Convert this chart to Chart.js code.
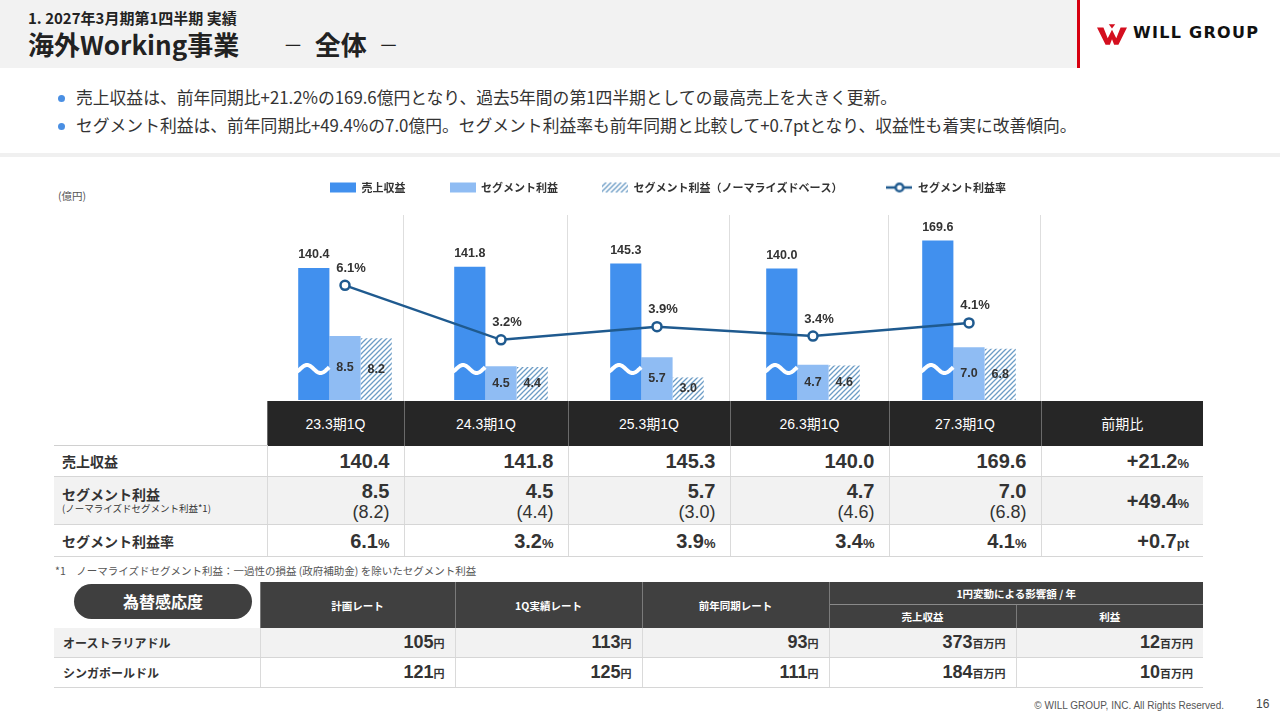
<!DOCTYPE html>
<html lang="ja">
<head>
<meta charset="utf-8">
<script src="https://cdn.jsdelivr.net/npm/chart.js@4.4.1/dist/chart.umd.min.js"></script>
<style>
	body { margin: 0; background: #fff; }
	#slide { position: relative; width: 1280px; height: 720px; overflow: hidden; font-family: "Noto Sans CJK JP", "Noto Sans", sans-serif; color: #333; }
	.num { font-family: "Liberation Sans", "Noto Sans CJK JP", sans-serif; }
	#band { position: absolute; left: 0; top: 0; width: 1078px; height: 68px; background: #f2f2f2; }
	#redline { position: absolute; left: 1077px; top: 0; width: 3px; height: 68px; background: #d7000f; }
	#subTitle { position: absolute; left: 28px; top: 7px; font-size: 15px; font-weight: 700; color: #222; }
	#mainTitle { position: absolute; left: 28px; top: 25px; font-size: 26px; font-weight: 700; color: #222; white-space: pre; }
	#mainTitle .dash { font-weight: 400; font-size: 20px; vertical-align: 2px; }
	#logo { position: absolute; left: 1097px; top: 24px; }
	#logoText { position: absolute; left: 1133px; top: 23px; font-family: "DejaVu Sans", sans-serif; font-weight: 700; font-size: 16px; letter-spacing: 1.3px; color: #111; }
	.bullet { position: absolute; left: 76px; font-size: 16.8px; color: #333; white-space: nowrap; }
	.dot { position: absolute; left: 58px; width: 7px; height: 7px; border-radius: 50%; background: #4a8fe3; }
	#sep { position: absolute; left: 0; top: 153px; width: 1280px; height: 4px; background: #f0f0f0; }
	#unit { position: absolute; left: 58px; top: 188px; font-size: 10.5px; color: #555; }
	#chartBox { position: absolute; left: 257px; top: 138px; }
	.vline { position: absolute; top: 215px; width: 1px; height: 186px; background: #dedede; }

	table { border-collapse: collapse; table-layout: fixed; position: absolute; left: 54px; }
	#perf { top: 401px; width: 1149px; }
	#perf th { background: #262626; color: #fff; font-weight: 400; font-size: 14px; height: 44px; padding: 0; border-left: 1px solid #6a6a6a; }
	#perf th.blank { background: #fff; border: none; border-bottom: 1px solid #d0d0d0; }
	#perf td { padding: 0 14px 0 0; text-align: right; border-left: 1px solid #dadada; border-bottom: 1px solid #d6d6d6; line-height: 1; }
	#perf td.lbl { text-align: left; padding-left: 8px; border-left: none; font-weight: 700; font-size: 14px; }
	#perf tr.r1 td { height: 30px; }
	#perf tr.r2 td { height: 47px; background: #f2f2f2; }
	#perf tr.r3 td { height: 31px; }
	.big { font-weight: 700; font-size: 20px; }
	.paren { font-size: 18px; display: block; margin-top: 2px; }
	.pc { font-weight: 700; font-size: 13px; }
	.small { font-size: 9.5px; font-weight: 400; display: block; margin-top: 3px; }

	#note { position: absolute; left: 55px; top: 563px; font-size: 10.5px; color: #555; white-space: pre; }

	#fx { top: 582px; width: 1149px; }
	#fx th { background: #404040; color: #fff; font-weight: 700; font-size: 10.5px; padding: 0; border-left: 1px solid #7a7a7a; }
	#fx th.blank { background: #fff; border: none; }
	#fx tr.h1 th { height: 22px; }
	#fx tr.h2 th { height: 23px; border-top: 1px solid #8a8a8a; }
	#fx td { height: 29px; padding: 0 10px 0 0; text-align: right; border-left: 1px solid #dadada; border-bottom: 1px solid #d6d6d6; }
	#fx td.lbl { text-align: left; padding-left: 9px; border-left: none; font-weight: 700; font-size: 12px; }
	#fx tr.odd td { background: #f2f2f2; }
	.fxv { font-weight: 700; font-size: 18px; }
	.yen { font-size: 11px; font-weight: 700; }
	#pill { position: absolute; left: 74px; top: 584px; width: 178px; height: 35px; border-radius: 18px; background: #3f3f3f; color: #fff; font-weight: 700; font-size: 16px; text-align: center; line-height: 35px; }

	#copy { position: absolute; right: 56px; top: 700px; font-size: 10px; color: #555; }
	#page { position: absolute; left: 1256px; top: 697px; font-size: 12px; color: #444; }
</style>
</head>
<body>
<div id="slide">
	<div id="band"></div>
	<div id="redline"></div>
	<div id="subTitle">1. 2027年3月期第1四半期 実績</div>
	<div id="mainTitle">海外Working事業　   <span class="dash">－</span>  全体  <span class="dash">－</span></div>
	<svg id="logo" width="30" height="22" viewBox="0 0 28 20">
		<path d="M0 3 L6 3 L10 13 L14 5 L18 13 L22 3 L28 3 L20 19 L16 19 L14 14 L12 19 L8 19 Z M11 0 L14 4 L17 0 Z" fill="#d40f1f"/>
	</svg>
	<div id="logoText">WILL GROUP</div>

	<div class="dot" style="top:95px"></div>
	<div class="bullet" style="top:85px">売上収益は、前年同期比+21.2%の169.6億円となり、過去5年間の第1四半期としての最高売上を大きく更新。</div>
	<div class="dot" style="top:123px"></div>
	<div class="bullet" style="top:113px">セグメント利益は、前年同期比+49.4%の7.0億円。セグメント利益率も前年同期と比較して+0.7ptとなり、収益性も着実に改善傾向。</div>
	<div id="sep"></div>

	<div id="unit">(億円)</div>
	<div id="vlines"></div>
	<div id="chartBox"><canvas id="segChart" width="822" height="262"></canvas></div>

	<table id="perf"></table>
	<div id="note">*1　ノーマライズドセグメント利益：一過性の損益 (政府補助金) を除いたセグメント利益</div>

	<table id="fx"></table>
	<div id="pill">為替感応度</div>

	<div id="copy" class="num">© WILL GROUP, INC. All Rights Reserved.</div>
	<div id="page" class="num">16</div>
</div>

<script>
const periods = ["23.3期1Q", "24.3期1Q", "25.3期1Q", "26.3期1Q", "27.3期1Q"];
const revenue = [140.4, 141.8, 145.3, 140.0, 169.6];
const segmentProfit = [8.5, 4.5, 5.7, 4.7, 7.0];
const normalizedProfit = [8.2, 4.4, 3.0, 4.6, 6.8];
const profitRate = [6.1, 3.2, 3.9, 3.4, 4.1];
const seriesNames = ["売上収益", "セグメント利益", "セグメント利益（ノーマライズドベース）", "セグメント利益率"];
const yoyRevenue = "+21.2";
const yoyProfit = "+49.4";
const yoyRate = "+0.7";

const fxCurrencies = ["オーストラリアドル", "シンガポールドル"];
const fxPlanRate = [105, 121];
const fxActualRate = [113, 125];
const fxPrevRate = [93, 111];
const fxRevenueImpact = [373, 184];
const fxProfitImpact = [12, 10];

const REV_COLOR = "#4190ee";
const PROFIT_COLOR = "#8fbcf3";
const LINE_COLOR = "#1f5a8f";
const HATCH_COLOR = "#6d9dc6";

// column widths of the results table (label column first)
const perfCols = [213, 137, 164, 162, 159, 152, 162];
const fxCols = [206, 195, 187, 187, 187, 187];

function hatchTile() {
	const t = document.createElement("canvas");
	t.width = 5;
	t.height = 5;
	const g = t.getContext("2d");
	g.fillStyle = "#fff";
	g.fillRect(0, 0, 5, 5);
	g.strokeStyle = HATCH_COLOR;
	g.lineWidth = 1.3;
	g.beginPath();
	g.moveTo(-1, 6); g.lineTo(6, -1);
	g.moveTo(-1, 1); g.lineTo(1, -1);
	g.moveTo(4, 6); g.lineTo(6, 4);
	g.stroke();
	return t;
}

function legendIcon(kind) {
	const c = document.createElement("canvas");
	c.width = 26;
	c.height = 12;
	const g = c.getContext("2d");
	if (kind === "line") {
		g.strokeStyle = LINE_COLOR;
		g.lineWidth = 2.5;
		g.beginPath();
		g.moveTo(0, 6);
		g.lineTo(26, 6);
		g.stroke();
		g.fillStyle = "#fff";
		g.beginPath();
		g.arc(13, 6, 3.8, 0, Math.PI * 2);
		g.fill();
		g.stroke();
	} else {
		g.fillStyle = kind === "hatch" ? g.createPattern(hatchTile(), "repeat") : kind;
		g.fillRect(0, 1, 26, 10);
	}
	return c;
}

// chart area column separators follow the table columns
let acc = 54 + perfCols[0];
let lines = "";
for (let i = 1; i < perfCols.length - 1; i++) {
	acc += perfCols[i];
	lines += `<div class="vline" style="left:${acc - 1}px"></div>`;
}
document.getElementById("vlines").innerHTML = lines;

// results table
function cols(widths) {
	return "<colgroup>" + widths.map((w) => `<col style="width:${w}px">`).join("") + "</colgroup>";
}
let perf = cols(perfCols);
perf += `<tr><th class="blank"></th>${periods.map((p) => `<th class="num">${p}</th>`).join("")}<th>前期比</th></tr>`;
perf += `<tr class="r1"><td class="lbl">売上収益</td>${revenue
	.map((v) => `<td class="num"><span class="big">${v.toFixed(1)}</span></td>`)
	.join("")}<td class="num"><span class="big">${yoyRevenue}</span><span class="pc">%</span></td></tr>`;
perf += `<tr class="r2"><td class="lbl">セグメント利益<span class="small">(ノーマライズドセグメント利益*1)</span></td>${segmentProfit
	.map(
		(v, i) =>
			`<td class="num"><span class="big">${v.toFixed(1)}</span><span class="paren">(${normalizedProfit[i].toFixed(1)})</span></td>`
	)
	.join("")}<td class="num"><span class="big">${yoyProfit}</span><span class="pc">%</span></td></tr>`;
perf += `<tr class="r3"><td class="lbl">セグメント利益率</td>${profitRate
	.map((v) => `<td class="num"><span class="big">${v.toFixed(1)}</span><span class="pc">%</span></td>`)
	.join("")}<td class="num"><span class="big">${yoyRate}</span><span class="pc">pt</span></td></tr>`;
document.getElementById("perf").innerHTML = perf;

// fx sensitivity table
let fx = cols(fxCols);
fx += `<tr class="h1"><th class="blank" rowspan="2"></th><th rowspan="2">計画レート</th><th rowspan="2">1Q実績レート</th><th rowspan="2">前年同期レート</th><th colspan="2">1円変動による影響額 / 年</th></tr>`;
fx += `<tr class="h2"><th>売上収益</th><th>利益</th></tr>`;
fxCurrencies.forEach((name, i) => {
	const yen = (v) => `<td class="num"><span class="fxv">${v}</span><span class="yen">円</span></td>`;
	const mil = (v) => `<td class="num"><span class="fxv">${v}</span><span class="yen">百万円</span></td>`;
	fx += `<tr class="${i === 0 ? "odd" : ""}"><td class="lbl">${name}</td>${yen(fxPlanRate[i])}${yen(fxActualRate[i])}${yen(
		fxPrevRate[i]
	)}${mil(fxRevenueImpact[i])}${mil(fxProfitImpact[i])}</tr>`;
});
document.getElementById("fx").innerHTML = fx;

// extra space under the legend
const legendGap = {
	id: "legendGap",
	beforeInit(chart) {
		if (!chart.legend) return;
		const fit = chart.legend.fit;
		chart.legend.fit = function () {
			fit.call(this);
			this.height += 9;
		};
	},
};

// value labels and the broken-axis waves on the revenue bars
const barMarks = {
	id: "barMarks",
	afterDatasetsDraw(chart) {
		const ctx = chart.ctx;
		ctx.save();

		chart.getDatasetMeta(0).data.forEach((bar) => {
			const left = bar.x - bar.width / 2;
			const cy = bar.base - 31;
			const period = bar.width * 0.87;
			ctx.strokeStyle = "#fff";
			ctx.lineWidth = 4;
			ctx.beginPath();
			for (let x = left - 1; x <= left + bar.width; x += 0.5) {
				const y = cy - 4 * Math.sin(((x - left - 2) / period) * Math.PI * 2);
				if (x === left - 1) ctx.moveTo(x, y);
				else ctx.lineTo(x, y);
			}
			ctx.stroke();
		});

		ctx.fillStyle = "#333";
		ctx.textAlign = "center";
		ctx.textBaseline = "middle";
		ctx.font = "bold 12.5px 'Liberation Sans', Arial, sans-serif";

		chart.getDatasetMeta(0).data.forEach((bar, i) => {
			ctx.fillText(revenue[i].toFixed(1), bar.x, bar.y - 13);
		});
		[1, 2].forEach((di) => {
			const values = chart.data.datasets[di].data;
			chart.getDatasetMeta(di).data.forEach((bar, i) => {
				ctx.fillText(values[i].toFixed(1), bar.x, (bar.y + bar.base) / 2);
			});
		});
		ctx.font = "bold 13px 'Liberation Sans', Arial, sans-serif";
		chart.getDatasetMeta(3).data.forEach((pt, i) => {
			ctx.fillText(profitRate[i].toFixed(1) + "%", pt.x + 6, pt.y - 17);
		});
		ctx.restore();
	},
};

const ctx = document.getElementById("segChart").getContext("2d");
const hatch = ctx.createPattern(hatchTile(), "repeat");
const icons = [legendIcon(REV_COLOR), legendIcon(PROFIT_COLOR), legendIcon("hatch"), legendIcon("line")];

new Chart(ctx, {
	type: "bar",
	data: {
		labels: periods,
		datasets: [
			{
				label: seriesNames[0],
				data: revenue,
				yAxisID: "yRev",
				backgroundColor: REV_COLOR,
				categoryPercentage: 0.6,
				barPercentage: 1,
				order: 1,
			},
			{
				label: seriesNames[1],
				data: segmentProfit,
				yAxisID: "yProf",
				backgroundColor: PROFIT_COLOR,
				categoryPercentage: 0.6,
				barPercentage: 1,
				order: 1,
			},
			{
				label: seriesNames[2],
				data: normalizedProfit,
				yAxisID: "yProf",
				backgroundColor: hatch,
				categoryPercentage: 0.6,
				barPercentage: 1,
				order: 1,
			},
			{
				type: "line",
				label: seriesNames[3],
				data: profitRate,
				yAxisID: "yRate",
				borderColor: LINE_COLOR,
				borderWidth: 2.5,
				pointRadius: 4.5,
				pointBorderWidth: 2.5,
				pointBackgroundColor: "#fff",
				pointBorderColor: LINE_COLOR,
				tension: 0,
				order: 0,
			},
		],
	},
	options: {
		responsive: false,
		animation: false,
		layout: { padding: 0, autoPadding: false },
		plugins: {
			legend: {
				position: "top",
				labels: {
					usePointStyle: true,
					pointStyleWidth: 26,
					padding: 44,
					color: "#333",
					font: { family: "'Noto Sans CJK JP', sans-serif", size: 11, weight: "bold" },
					generateLabels: (chart) =>
						chart.data.datasets.map((ds, i) => ({
							text: ds.label,
							pointStyle: icons[i],
							datasetIndex: i,
							hidden: false,
							fontColor: "#333",
							lineWidth: 0,
							strokeStyle: "rgba(0,0,0,0)",
							fillStyle: "rgba(0,0,0,0)",
						})),
				},
			},
			tooltip: { enabled: false },
		},
		scales: {
			x: { display: false },
			yRev: {
				position: "left",
				min: 0,
				max: 200,
				grid: { display: false },
				border: { display: false },
				ticks: { display: false },
				afterFit: (s) => {
					s.width = 10;
				},
			},
			yProf: { display: false, min: 0, max: 25 },
			yRate: {
				position: "right",
				min: 0,
				max: 10,
				grid: { display: false },
				border: { display: false },
				ticks: { display: false },
				afterFit: (s) => {
					s.width = 32;
				},
			},
		},
	},
	plugins: [legendGap, barMarks],
});
</script>
</body>
</html>
